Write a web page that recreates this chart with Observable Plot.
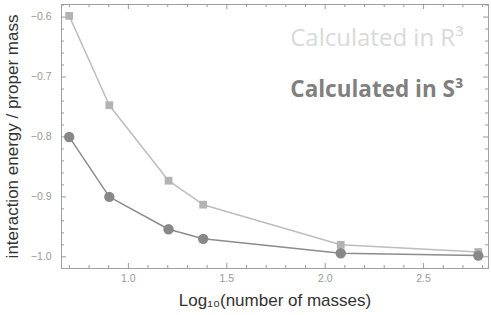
<!DOCTYPE html>
<html><head><meta charset="utf-8">
<script src="https://cdn.jsdelivr.net/npm/d3@7"></script>
<script src="https://cdn.jsdelivr.net/npm/@observablehq/plot@0.6"></script>
<style>body{margin:0;background:#fff} svg{display:block}</style>
</head><body><div id="chart"></div>
<script>
const logN = [0.699, 0.903, 1.204, 1.380, 2.079, 2.778];
const energyR3 = [-0.598, -0.747, -0.873, -0.913, -0.980, -0.992];
const energyS3 = [-0.800, -0.900, -0.954, -0.970, -0.994, -0.998];
const xMajor = [1.0, 1.5, 2.0, 2.5];
const xMinor = [0.7, 0.8, 0.9, 1.1, 1.2, 1.3, 1.4, 1.6, 1.7, 1.8, 1.9, 2.1, 2.2, 2.3, 2.4, 2.6, 2.7, 2.8];
const yMajor = [-1.0, -0.9, -0.8, -0.7, -0.6];
const yMinor = [-0.98, -0.96, -0.94, -0.92, -0.88, -0.86, -0.84, -0.82, -0.78, -0.76, -0.74, -0.72, -0.68, -0.66, -0.64, -0.62, -0.58];
const xLabel = "Log\u2081\u2080(number of masses)";
const yLabel = "interaction energy / proper mass";
const seriesLabels = ["Calculated in R\u00b3", "Calculated in S\u00b3"];

const R3 = logN.map((x, i) => ({x, y: energyR3[i]}));
const S3 = logN.map((x, i) => ({x, y: energyS3[i]}));

const W = 491, H = 315;
const mL = 61, mR = 3, mT = 4, mB = 47;
const iW = W - mL - mR, iH = H - mT - mB;
const tickColor = "#9a9a9a";
const sans = "'Liberation Sans', Arial, sans-serif";
const open = "'Open Sans', sans-serif";

const chart = Plot.plot({
  width: W, height: H,
  marginLeft: mL, marginRight: mR, marginTop: mT, marginBottom: mB,
  style: {fontFamily: sans, background: "#fff"},
  x: {domain: [0.66, 2.83], axis: null},
  y: {domain: [-1.0195, -0.579], axis: null},
  marks: [
    Plot.frame({stroke: "#a0a0a0", strokeWidth: 1}),
    Plot.tickX(xMinor, {x: d => d, insetTop: iH - 3, stroke: tickColor}),
    Plot.tickX(xMajor, {x: d => d, insetTop: iH - 5, stroke: tickColor}),
    Plot.tickX(xMinor, {x: d => d, insetBottom: iH - 3, stroke: tickColor}),
    Plot.tickX(xMajor, {x: d => d, insetBottom: iH - 5, stroke: tickColor}),
    Plot.tickY(yMinor, {y: d => d, insetRight: iW - 3, stroke: tickColor}),
    Plot.tickY(yMajor, {y: d => d, insetRight: iW - 5, stroke: tickColor}),
    Plot.tickY(yMinor, {y: d => d, insetLeft: iW - 3, stroke: tickColor}),
    Plot.tickY(yMajor, {y: d => d, insetLeft: iW - 5, stroke: tickColor}),
    Plot.text(xMajor, {x: d => d, frameAnchor: "bottom", dy: 13, text: d => d.toFixed(1), fill: "#999", fontSize: 10.5, fontFamily: sans}),
    Plot.text(yMajor, {y: d => d, frameAnchor: "left", dx: -10, textAnchor: "end", text: d => "\u2212" + Math.abs(d).toFixed(1), fill: "#999", fontSize: 10.5, fontFamily: sans}),
    Plot.text([xLabel], {frameAnchor: "bottom", dy: 37, textAnchor: "middle", text: d => d, fill: "#333", fontSize: 17, fontFamily: sans}),
    Plot.text([yLabel], {frameAnchor: "left", dx: -49, rotate: -90, textAnchor: "middle", text: d => d, fill: "#333", fontSize: 17, fontFamily: sans}),
    Plot.line(R3, {x: "x", y: "y", stroke: "#bdbdbd", strokeWidth: 1.5}),
    Plot.dot(R3, {x: "x", y: "y", symbol: "square", r: 4.4, fill: "#b3b3b3"}),
    Plot.line(S3, {x: "x", y: "y", stroke: "#8c8c8c", strokeWidth: 1.5}),
    Plot.dot(S3, {x: "x", y: "y", symbol: "circle", r: 5.2, fill: "#888888"}),
    Plot.text([seriesLabels[0]], {frameAnchor: "top-right", dx: -25, dy: 33.5, textAnchor: "end", lineAnchor: "middle", text: d => d, fill: "#d9d9d9", fontSize: 24, fontFamily: open}),
    Plot.text([seriesLabels[1]], {frameAnchor: "top-right", dx: -25, dy: 85.5, textAnchor: "end", lineAnchor: "middle", text: d => d, fill: "#808080", fontSize: 22.5, fontWeight: "bold", fontFamily: open})
  ]
});
document.getElementById("chart").append(chart);
</script>
</body></html>
